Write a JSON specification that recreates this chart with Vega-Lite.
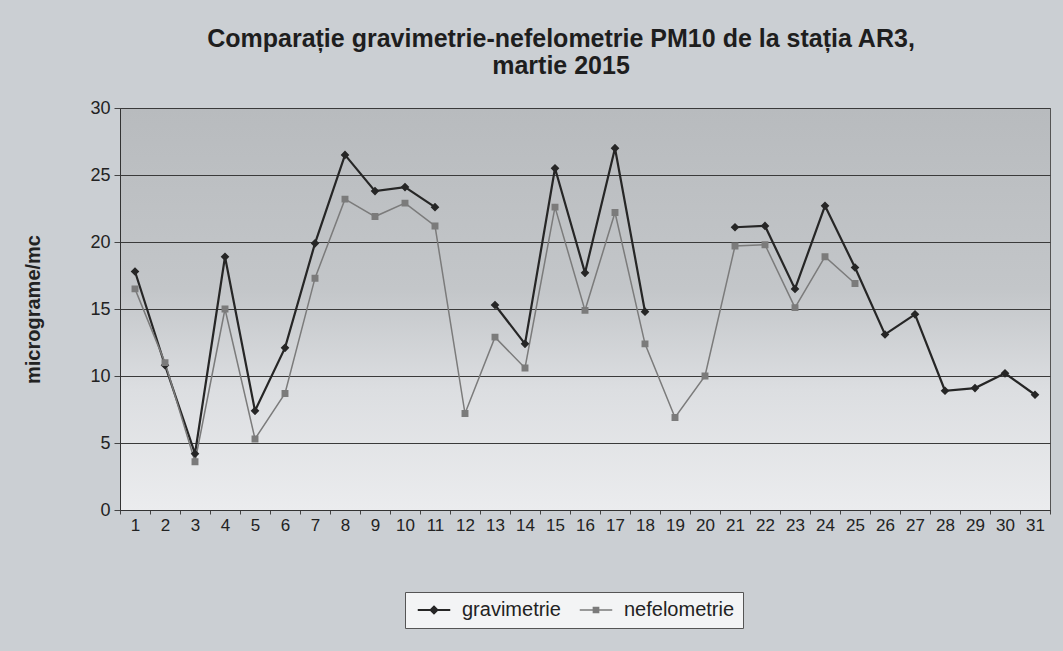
{
  "$schema": "https://vega.github.io/schema/vega-lite/v6.json",
  "width": 930,
  "height": 402,
  "autosize": {"type": "none"},
  "padding": {"left": 120, "top": 108, "right": 13, "bottom": 141},
  "background": "#cbcfd3",
  "title": {
    "text": ["Comparație gravimetrie-nefelometrie PM10 de la stația AR3,", "martie 2015"],
    "anchor": "middle",
    "dx": -24,
    "offset": 20,
    "font": "Liberation Sans",
    "fontSize": 25,
    "fontWeight": "bold",
    "color": "#1e1e1e",
    "lineHeight": 27
  },
  "config": {
    "font": "Liberation Sans",
    "view": {
      "stroke": "#555555",
      "strokeWidth": 1,
      "fill": {
        "gradient": "linear",
        "x1": 0, "y1": 0, "x2": 0, "y2": 1,
        "stops": [
          {"offset": 0, "color": "#b8bbbe"},
          {"offset": 0.45, "color": "#c3c6c9"},
          {"offset": 0.7, "color": "#dcdee1"},
          {"offset": 1, "color": "#ebecee"}
        ]
      }
    }
  },
  "data": {
    "values": [
      {"day": 1, "series": "gravimetrie", "value": 17.8},
      {"day": 2, "series": "gravimetrie", "value": 10.8},
      {"day": 3, "series": "gravimetrie", "value": 4.2},
      {"day": 4, "series": "gravimetrie", "value": 18.9},
      {"day": 5, "series": "gravimetrie", "value": 7.4},
      {"day": 6, "series": "gravimetrie", "value": 12.1},
      {"day": 7, "series": "gravimetrie", "value": 19.9},
      {"day": 8, "series": "gravimetrie", "value": 26.5},
      {"day": 9, "series": "gravimetrie", "value": 23.8},
      {"day": 10, "series": "gravimetrie", "value": 24.1},
      {"day": 11, "series": "gravimetrie", "value": 22.6},
      {"day": 12, "series": "gravimetrie", "value": null},
      {"day": 13, "series": "gravimetrie", "value": 15.3},
      {"day": 14, "series": "gravimetrie", "value": 12.4},
      {"day": 15, "series": "gravimetrie", "value": 25.5},
      {"day": 16, "series": "gravimetrie", "value": 17.7},
      {"day": 17, "series": "gravimetrie", "value": 27.0},
      {"day": 18, "series": "gravimetrie", "value": 14.8},
      {"day": 19, "series": "gravimetrie", "value": null},
      {"day": 20, "series": "gravimetrie", "value": null},
      {"day": 21, "series": "gravimetrie", "value": 21.1},
      {"day": 22, "series": "gravimetrie", "value": 21.2},
      {"day": 23, "series": "gravimetrie", "value": 16.5},
      {"day": 24, "series": "gravimetrie", "value": 22.7},
      {"day": 25, "series": "gravimetrie", "value": 18.1},
      {"day": 26, "series": "gravimetrie", "value": 13.1},
      {"day": 27, "series": "gravimetrie", "value": 14.6},
      {"day": 28, "series": "gravimetrie", "value": 8.9},
      {"day": 29, "series": "gravimetrie", "value": 9.1},
      {"day": 30, "series": "gravimetrie", "value": 10.2},
      {"day": 31, "series": "gravimetrie", "value": 8.6},
      {"day": 1, "series": "nefelometrie", "value": 16.5},
      {"day": 2, "series": "nefelometrie", "value": 11.0},
      {"day": 3, "series": "nefelometrie", "value": 3.6},
      {"day": 4, "series": "nefelometrie", "value": 15.0},
      {"day": 5, "series": "nefelometrie", "value": 5.3},
      {"day": 6, "series": "nefelometrie", "value": 8.7},
      {"day": 7, "series": "nefelometrie", "value": 17.3},
      {"day": 8, "series": "nefelometrie", "value": 23.2},
      {"day": 9, "series": "nefelometrie", "value": 21.9},
      {"day": 10, "series": "nefelometrie", "value": 22.9},
      {"day": 11, "series": "nefelometrie", "value": 21.2},
      {"day": 12, "series": "nefelometrie", "value": 7.2},
      {"day": 13, "series": "nefelometrie", "value": 12.9},
      {"day": 14, "series": "nefelometrie", "value": 10.6},
      {"day": 15, "series": "nefelometrie", "value": 22.6},
      {"day": 16, "series": "nefelometrie", "value": 14.9},
      {"day": 17, "series": "nefelometrie", "value": 22.2},
      {"day": 18, "series": "nefelometrie", "value": 12.4},
      {"day": 19, "series": "nefelometrie", "value": 6.9},
      {"day": 20, "series": "nefelometrie", "value": 10.0},
      {"day": 21, "series": "nefelometrie", "value": 19.7},
      {"day": 22, "series": "nefelometrie", "value": 19.8},
      {"day": 23, "series": "nefelometrie", "value": 15.1},
      {"day": 24, "series": "nefelometrie", "value": 18.9},
      {"day": 25, "series": "nefelometrie", "value": 16.9},
      {"day": 26, "series": "nefelometrie", "value": null},
      {"day": 27, "series": "nefelometrie", "value": null},
      {"day": 28, "series": "nefelometrie", "value": null},
      {"day": 29, "series": "nefelometrie", "value": null},
      {"day": 30, "series": "nefelometrie", "value": null},
      {"day": 31, "series": "nefelometrie", "value": null}
    ]
  },
  "encoding": {
    "x": {
      "field": "day",
      "type": "ordinal",
      "scale": {"type": "band", "paddingInner": 0, "paddingOuter": 0},
      "axis": {
        "title": null,
        "labelAngle": 0,
        "tickBand": "extent",
        "labelFontSize": 17,
        "labelColor": "#222222",
        "labelPadding": 3,
        "tickSize": 4,
        "tickColor": "#444444",
        "domainColor": "#333333",
        "grid": false
      }
    },
    "y": {
      "field": "value",
      "type": "quantitative",
      "scale": {"domain": [0, 30], "nice": false},
      "axis": {
        "values": [0, 5, 10, 15, 20, 25, 30],
        "title": "micrograme/mc",
        "titleFontSize": 20,
        "titleFontWeight": "bold",
        "titleColor": "#222222",
        "titleX": -87,
        "titleY": 201,
        "titleAngle": -90,
        "titleAlign": "center",
        "titleBaseline": "middle",
        "labelFontSize": 18,
        "labelColor": "#222222",
        "labelPadding": 4,
        "tickSize": 6,
        "tickColor": "#444444",
        "domainColor": "#333333",
        "grid": true,
        "gridColor": "#3a3a3a",
        "gridWidth": 1
      }
    },
    "color": {
      "field": "series",
      "type": "nominal",
      "title": null,
      "scale": {"domain": ["gravimetrie", "nefelometrie"], "range": ["#262626", "#7b7b7b"]},
      "legend": {
        "orient": "none",
        "direction": "horizontal",
        "legendX": 285,
        "legendY": 484,
        "fillColor": "#f3f4f5",
        "strokeColor": "#555555",
        "padding": 8,
        "labelFontSize": 20,
        "labelColor": "#222222",
        "labelOffset": 18,
        "symbolOffset": 11,
        "columnPadding": 14,
        "symbolSize": 169,
        "symbolStrokeWidth": 1.6
      }
    }
  },
  "layer": [
    {
      "mark": {"type": "line"},
      "encoding": {
        "strokeWidth": {
          "field": "series",
          "type": "nominal",
          "scale": {"domain": ["gravimetrie", "nefelometrie"], "range": [2.2, 1.5]},
          "legend": null
        }
      }
    },
    {
      "mark": {"type": "point", "filled": true, "strokeWidth": 0, "opacity": 1},
      "encoding": {
        "shape": {
          "field": "series",
          "type": "nominal",
          "title": null,
          "scale": {
            "domain": ["gravimetrie", "nefelometrie"],
            "range": ["M-2.5,0H2.5M0,-0.5L0.5,0L0,0.5L-0.5,0Z", "M-2.5,0H2.5M-0.4,-0.4H0.4V0.4H-0.4Z"]
          }
        },
        "size": {"value": 300}
      }
    }
  ]
}
